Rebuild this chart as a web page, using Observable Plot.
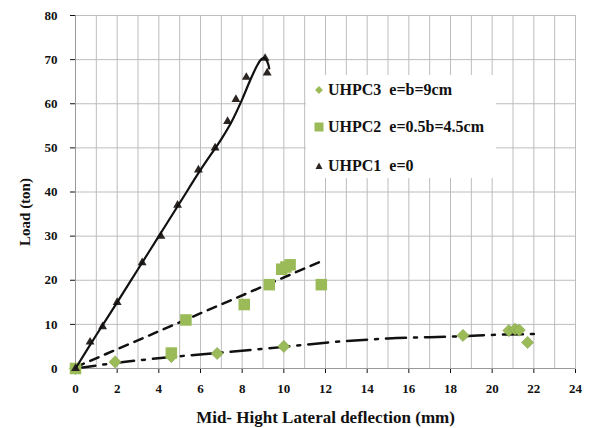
<!DOCTYPE html>
<html>
<head>
<meta charset="utf-8">
<script src="https://cdn.jsdelivr.net/npm/d3@7"></script>
<script src="https://cdn.jsdelivr.net/npm/@observablehq/plot@0.6"></script>
<style>
  html, body { margin: 0; padding: 0; background: #fff; }
  #wrap { position: relative; width: 591px; height: 428px; }
  #legend { position: absolute; left: 306px; top: 75px; width: 190px; height: 103px; background: #fff;
    font-family: "Liberation Serif", "Times New Roman", serif; font-weight: bold; font-size: 16px; color: #111; }
  #legend .row { position: absolute; left: 8px; display: flex; align-items: center; white-space: pre; }
  #legend svg { margin-right: 4px; }
</style>
</head>
<body>
<div id="wrap">
  <div id="chart"></div>
  <div id="legend"></div>
</div>
<script>
// UHPC1 e=0 (triangles)
const u1X = [0, 0.7, 1.3, 2.0, 3.2, 4.1, 4.9, 5.9, 6.7, 7.3, 7.7, 8.2, 9.1, 9.2];
const u1Y = [0, 6, 9.5, 15, 24, 30, 37, 45, 50, 56, 61, 66, 70.3, 67];
// UHPC1 trend (solid)
const t1X = [0, 1, 2, 3, 4, 5, 6, 7, 7.5, 8, 8.4, 8.7, 8.9, 9.05, 9.2, 9.3];
const t1Y = [0, 7.6, 15, 22.5, 30, 37.5, 45, 52, 56, 61, 65.5, 68.5, 70, 70.4, 69.6, 68];

// UHPC2 e=0.5b=4.5cm (squares)
const u2X = [0, 4.6, 5.3, 8.1, 9.3, 9.9, 10.3, 10.1, 11.8];
const u2Y = [0, 3.5, 11, 14.5, 19, 22.5, 23.5, 23, 19];
// UHPC2 trend (dashed)
const t2X = [0, 11.8];
const t2Y = [0.3, 24.3];

// UHPC3 e=b=9cm (diamonds)
const u3X = [0, 1.9, 4.6, 6.8, 10, 18.6, 20.8, 21.1, 21.3, 21.7];
const u3Y = [0, 1.5, 2.7, 3.4, 5, 7.5, 8.6, 8.9, 8.7, 5.9];
// UHPC3 trend (dash-dot)
const t3X = [0, 2, 4.6, 7, 10, 12.4, 15, 18.5, 20.5, 22];
const t3Y = [0, 1.3, 2.6, 3.6, 4.9, 6.0, 6.8, 7.3, 7.7, 7.8];

const xTicks = d3.range(0, 25, 2);
const yTicks = d3.range(0, 81, 10);
const xGrid = d3.range(0, 25, 1);

const labels = ["UHPC3  e=b=9cm", "UHPC2  e=0.5b=4.5cm", "UHPC1  e=0"];
const xTitle = "Mid- Hight Lateral deflection (mm)";
const yTitle = "Load (ton)";
const green = "#9bbb59";
const dark = "#2b2420";

const zip = (xs, ys) => xs.map((x, i) => ({x, y: ys[i]}));

const serif = "'Liberation Serif', 'Times New Roman', serif";

const chart = Plot.plot({
  width: 591,
  height: 428,
  marginLeft: 75,
  marginRight: 16,
  marginTop: 15,
  marginBottom: 60,
  style: {fontFamily: serif, fontSize: "13px", fontWeight: "bold", color: "#111", background: "#fff"},
  x: {domain: [0, 24], ticks: xTicks, tickSize: 5, tickPadding: 10, label: xTitle, labelAnchor: "center", labelOffset: 54, labelArrow: "none"},
  y: {domain: [0, 80], ticks: yTicks, tickSize: 5, tickPadding: 13, label: null},
  marks: [
    Plot.ruleX(xGrid, {stroke: "#bdbdbd", strokeWidth: 1}),
    Plot.ruleY(yTicks, {stroke: "#bdbdbd", strokeWidth: 1}),
    Plot.frame({stroke: "#bdbdbd"}),
    Plot.ruleX([0], {stroke: "#999"}),
    Plot.ruleY([0], {stroke: "#999"}),
    Plot.text([yTitle], {frameAnchor: "left", rotate: -90, dx: -50, dy: 20, fontSize: 15, fontWeight: "bold", fill: "#111", textAnchor: "middle"}),
    Plot.line(zip(t3X, t3Y), {x: "x", y: "y", stroke: "#111", strokeWidth: 2.5, strokeDasharray: "20,8,3,8", curve: "monotone-x"}),
    Plot.line(zip(t2X, t2Y), {x: "x", y: "y", stroke: "#111", strokeWidth: 2.5, strokeDasharray: "9,7"}),
    Plot.dot(zip(u3X, u3Y), {x: "x", y: "y", symbol: "diamond2", fill: green, stroke: "#7f9a45", strokeWidth: 0.5, r: 5.5}),
    Plot.dot(zip(u2X, u2Y), {x: "x", y: "y", symbol: "square", fill: green, stroke: "none", r: 6.5}),
    Plot.dot(zip(u1X, u1Y), {x: "x", y: "y", symbol: "triangle", fill: dark, stroke: "none", r: 3.3}),
    Plot.line(zip(t1X, t1Y), {x: "x", y: "y", stroke: "#111", strokeWidth: 2.2, curve: "catmull-rom"})
  ]
});
chart.querySelectorAll("g[aria-label='x-axis label'] text").forEach(t => t.style.fontSize = "17px");
document.getElementById("chart").appendChild(chart);

// Legend (HTML overlay)
const legend = document.getElementById("legend");
const symbols = [
  `<svg width="10" height="10" viewBox="-5 -5 10 10"><path d="M0,-4L4,0L0,4L-4,0Z" fill="${green}"/></svg>`,
  `<svg width="10" height="10" viewBox="-5 -5 10 10"><rect x="-4.5" y="-4.5" width="9" height="9" fill="${green}"/></svg>`,
  `<svg width="10" height="10" viewBox="-5 -5 10 10"><path d="M0,-3.5L3.5,3L-3.5,3Z" fill="${dark}"/></svg>`
];
const tops = [6, 43, 82];
labels.forEach((lab, i) => {
  const row = document.createElement("div");
  row.className = "row";
  row.style.top = tops[i] + "px";
  row.innerHTML = symbols[i] + `<span>${lab}</span>`;
  legend.appendChild(row);
});
</script>
</body>
</html>
